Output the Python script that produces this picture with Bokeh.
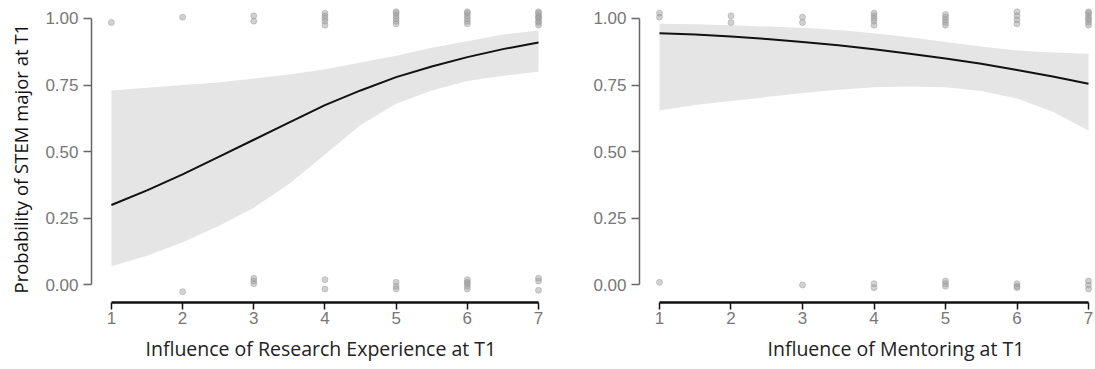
from bokeh.plotting import figure
from bokeh.layouts import row
from bokeh.models import FixedTicker, Range1d, Title
from bokeh.embed import file_html
from bokeh.resources import INLINE

# ---------------- data ----------------
curve_x = [1, 1.5, 2, 2.5, 3, 3.5, 4, 4.5, 5, 5.5, 6, 6.5, 7]

research_fit = [0.30, 0.355, 0.415, 0.48, 0.545, 0.61, 0.675, 0.73, 0.78, 0.82, 0.855, 0.885, 0.91]
research_lower = [0.07, 0.11, 0.16, 0.22, 0.29, 0.38, 0.49, 0.60, 0.68, 0.73, 0.765, 0.785, 0.80]
research_upper = [0.73, 0.74, 0.75, 0.76, 0.775, 0.79, 0.81, 0.835, 0.86, 0.89, 0.915, 0.94, 0.955]

mentoring_fit = [0.945, 0.94, 0.932, 0.923, 0.912, 0.90, 0.885, 0.868, 0.85, 0.83, 0.807, 0.782, 0.755]
mentoring_lower = [0.655, 0.675, 0.69, 0.705, 0.72, 0.733, 0.742, 0.745, 0.742, 0.728, 0.70, 0.65, 0.58]
mentoring_upper = [0.98, 0.978, 0.975, 0.97, 0.965, 0.957, 0.945, 0.93, 0.912, 0.895, 0.88, 0.872, 0.868]

research_pts_x = [1, 2, 3, 3,
                  4, 4, 4, 4, 4,
                  5, 5, 5, 5, 5, 5,
                  6, 6, 6, 6, 6, 6,
                  7, 7, 7, 7, 7, 7, 7, 7,
                  2, 3, 3, 3, 4, 4, 5, 5, 5,
                  6, 6, 6, 6, 6, 7, 7, 7]
research_pts_y = [0.985, 1.005, 0.99, 1.01,
                  0.975, 0.99, 1.0, 1.01, 1.02,
                  0.98, 0.99, 1.0, 1.01, 1.02, 1.025,
                  0.98, 0.99, 1.0, 1.01, 1.02, 1.025,
                  0.975, 0.985, 0.99, 1.0, 1.005, 1.01, 1.02, 1.025,
                  -0.025, 0.005, 0.015, 0.025, 0.02, -0.015, 0.01, -0.005, -0.015,
                  -0.015, -0.005, 0.005, 0.01, 0.02, 0.025, 0.015, -0.02]

mentoring_pts_x = [1, 1, 2, 2, 3, 3,
                   4, 4, 4, 4, 4,
                   5, 5, 5, 5, 5,
                   6, 6, 6, 6,
                   7, 7, 7, 7, 7, 7, 7,
                   1, 3, 4, 4, 5, 5, 5, 6, 6, 6, 7, 7, 7]
mentoring_pts_y = [1.02, 1.005, 1.01, 0.985, 1.005, 0.985,
                   0.975, 0.99, 1.0, 1.01, 1.02,
                   0.975, 0.985, 0.995, 1.005, 1.015,
                   0.98, 0.995, 1.01, 1.025,
                   0.975, 0.985, 0.995, 1.0, 1.01, 1.02, 1.025,
                   0.01, 0.0, 0.005, -0.01, 0.015, 0.005, -0.005, 0.005, -0.005, -0.01, 0.015, 0.0, -0.015]

x_ticks = [1, 2, 3, 4, 5, 6, 7]
y_ticks = [0, 0.25, 0.5, 0.75, 1.0]
y_tick_labels = ["0.00", "0.25", "0.50", "0.75", "1.00"]

y_title = "Probability of STEM major at T1"
x_titles = ["Influence of Research Experience at T1", "Influence of Mentoring at T1"]


def make_panel(fit, lower, upper, px, py, x_title, title_offset, show_y_title,
               width, border_left, border_right):
    p = figure(width=width, height=369, output_backend="svg", toolbar_location=None,
               x_range=Range1d(0.7203, 7.0699), y_range=Range1d(-0.0657, 1.0600),
               min_border_left=border_left, min_border_right=border_right,
               min_border_top=2, min_border_bottom=67)
    p.outline_line_color = None
    p.xgrid.visible = False
    p.ygrid.visible = False
    p.background_fill_color = "white"
    p.border_fill_color = "white"

    p.varea(x=curve_x, y1=lower, y2=upper, fill_color="#e5e5e5", fill_alpha=1.0)
    p.line(x=curve_x, y=fit, line_color="#111111", line_width=2)
    p.scatter(x=px, y=py, size=6, fill_color="#9a9a9a", fill_alpha=0.45,
              line_color="#9a9a9a", line_alpha=0.45)

    xa = p.xaxis[0]
    xa.ticker = FixedTicker(ticks=x_ticks)
    xa.bounds = (1, 7)
    xa.axis_line_color = "#111111"
    xa.axis_line_width = 2.5
    xa.major_tick_line_color = "#111111"
    xa.major_tick_line_width = 1.5
    xa.major_tick_in = 0
    xa.major_tick_out = 7
    xa.minor_tick_line_color = None
    xa.major_label_text_font = "Liberation Sans"
    xa.major_label_text_font_size = "17px"
    xa.major_label_text_color = "#777777"
    xa.major_label_standoff = 2

    ya = p.yaxis[0]
    ya.ticker = FixedTicker(ticks=y_ticks)
    ya.major_label_overrides = {t: l for t, l in zip(y_ticks, y_tick_labels)}
    ya.bounds = (0, 1)
    ya.axis_line_color = "#666666"
    ya.axis_line_width = 1.5
    ya.major_tick_line_color = "#666666"
    ya.major_tick_line_width = 1.5
    ya.major_tick_in = 0
    ya.major_tick_out = 8
    ya.minor_tick_line_color = None
    ya.major_label_text_font = "Liberation Sans"
    ya.major_label_text_font_size = "17px"
    ya.major_label_text_color = "#777777"
    ya.major_label_standoff = 5

    p.add_layout(Title(text=x_title, align="left", offset=title_offset, standoff=12,
                       text_font="Open Sans", text_font_size="19.5px",
                       text_font_style="normal", text_color="#222222"), "below")
    if show_y_title:
        p.add_layout(Title(text=y_title, align="left", offset=9, standoff=15,
                           vertical_align="top",
                           text_font="Open Sans", text_font_size="18.5px",
                           text_font_style="normal", text_color="#111111"), "left")
    return p


p1 = make_panel(research_fit, research_lower, research_upper,
                research_pts_x, research_pts_y, x_titles[0], 54, True,
                550, 89, 7)
p2 = make_panel(mentoring_fit, mentoring_lower, mentoring_upper,
                mentoring_pts_x, mentoring_pts_y, x_titles[1], 128, False,
                545, 89, 2)

layout = row(p1, p2)
open("out.html", "w").write(file_html(layout, INLINE))
